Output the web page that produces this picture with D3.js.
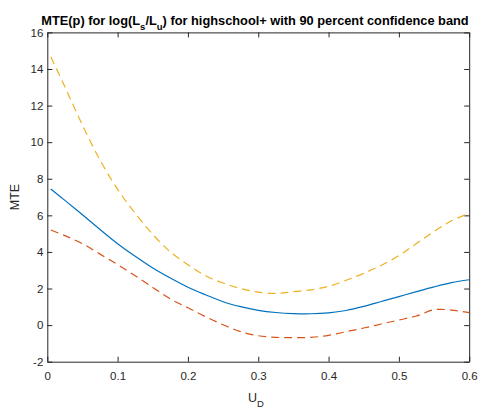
<!DOCTYPE html>
<html>
<head>
<meta charset="utf-8">
<script src="https://cdn.jsdelivr.net/npm/d3@7"></script>
<style>
  body { margin: 0; background: #fff; }
  svg { display: block; font-family: "Liberation Sans", Arial, sans-serif; }
</style>
</head>
<body>
<main></main>
<script>
const width = 504;
const height = 411;
const margin = {left: 47.3, right: 34.8, top: 32.4, bottom: 49.3};

// values
const uD = [0.005, 0.025, 0.05, 0.075, 0.1, 0.125, 0.15, 0.175, 0.2, 0.225, 0.25, 0.275, 0.3,
            0.325, 0.35, 0.375, 0.4, 0.425, 0.45, 0.475, 0.5, 0.525, 0.55, 0.575, 0.6];
const mte = [7.44, 6.82, 6.03, 5.23, 4.45, 3.76, 3.12, 2.57, 2.07, 1.66, 1.28, 1.01, 0.81,
             0.69, 0.63, 0.62, 0.67, 0.80, 1.02, 1.29, 1.56, 1.83, 2.09, 2.32, 2.48];
const lower = [5.20, 4.89, 4.45, 3.88, 3.31, 2.70, 2.06, 1.43, 0.95, 0.46, 0.02, -0.36, -0.58,
               -0.67, -0.68, -0.67, -0.56, -0.36, -0.16, 0.06, 0.28, 0.50, 0.84, 0.82, 0.68];
const upper = [14.67, 13.03, 10.93, 9.02, 7.42, 6.11, 4.96, 4.00, 3.30, 2.70, 2.30, 2.00, 1.80,
               1.73, 1.83, 1.93, 2.12, 2.45, 2.83, 3.27, 3.80, 4.46, 5.12, 5.70, 6.12];
const xTicks = [0, 0.1, 0.2, 0.3, 0.4, 0.5, 0.6];
const yTicks = [-2, 0, 2, 4, 6, 8, 10, 12, 14, 16];

const svg = d3.select('main').append('svg')
              .attr('width', width)
              .attr('height', height);

const x = d3.scaleLinear().domain([0, 0.6]).range([margin.left, width - margin.right]);
const y = d3.scaleLinear().domain([-2, 16]).range([height - margin.bottom, margin.top]);

const axisColor = '#262626';

const styleAxis = (g) => {
    g.selectAll('path').attr('stroke', axisColor).attr('stroke-width', 1);
    g.selectAll('line').attr('stroke', axisColor).attr('stroke-width', 1);
    g.selectAll('text').attr('fill', axisColor).attr('font-size', 11.5)
     .attr('font-family', '"Liberation Sans", Arial, sans-serif');
};

// bottom + left with labels, top + right only ticks (box on)
svg.append('g')
   .attr('transform', `translate(0,${y(-2)})`)
   .call(d3.axisBottom(x).tickValues(xTicks).tickFormat(d => String(d))
           .tickSizeInner(-5).tickSizeOuter(0).tickPadding(10))
   .call(styleAxis);

svg.append('g')
   .attr('transform', `translate(${x(0)},0)`)
   .call(d3.axisLeft(y).tickValues(yTicks).tickFormat(d => String(d))
           .tickSizeInner(-5).tickSizeOuter(0).tickPadding(4))
   .call(styleAxis);

svg.append('g')
   .attr('transform', `translate(0,${y(16)})`)
   .call(d3.axisTop(x).tickValues(xTicks).tickFormat('')
           .tickSizeInner(-5).tickSizeOuter(0))
   .call(styleAxis);

svg.append('g')
   .attr('transform', `translate(${x(0.6)},0)`)
   .call(d3.axisRight(y).tickValues(yTicks).tickFormat('')
           .tickSizeInner(-5).tickSizeOuter(0))
   .call(styleAxis);

// lines
const line = (vals) => d3.line()
    .x((d, i) => x(uD[i]))
    .y(d => y(d))
    .curve(d3.curveCatmullRom)(vals);

svg.append('path').attr('d', line(mte))
   .attr('fill', 'none').attr('stroke', '#0072BD').attr('stroke-width', 1.2);
svg.append('path').attr('d', line(lower))
   .attr('fill', 'none').attr('stroke', '#D95319').attr('stroke-width', 1.2)
   .attr('stroke-dasharray', '8,5');
svg.append('path').attr('d', line(upper))
   .attr('fill', 'none').attr('stroke', '#EDB120').attr('stroke-width', 1.2)
   .attr('stroke-dasharray', '8,5');

// title
const title = svg.append('text')
   .attr('x', 255).attr('y', 25)
   .attr('text-anchor', 'middle')
   .attr('font-weight', 'bold')
   .attr('font-size', 12.8)
   .attr('fill', '#000');
title.append('tspan').text('MTE(p) for log(L');
title.append('tspan').attr('font-size', 9.5).attr('dy', 5).text('s');
title.append('tspan').attr('dy', -5).text('/L');
title.append('tspan').attr('font-size', 9.5).attr('dy', 5).text('u');
title.append('tspan').attr('dy', -5).text(') for highschool+ with 90 percent confidence band');

// axis labels
const xl = svg.append('text')
   .attr('x', 256).attr('y', 402)
   .attr('text-anchor', 'middle')
   .attr('font-size', 12.5)
   .attr('fill', axisColor);
xl.append('tspan').text('U');
xl.append('tspan').attr('font-size', 9.5).attr('dy', 5).text('D');

svg.append('text')
   .attr('transform', `translate(19,${(y(-2) + y(16)) / 2}) rotate(-90)`)
   .attr('text-anchor', 'middle')
   .attr('font-size', 12.5)
   .attr('fill', axisColor)
   .text('MTE');
</script>
</body>
</html>
